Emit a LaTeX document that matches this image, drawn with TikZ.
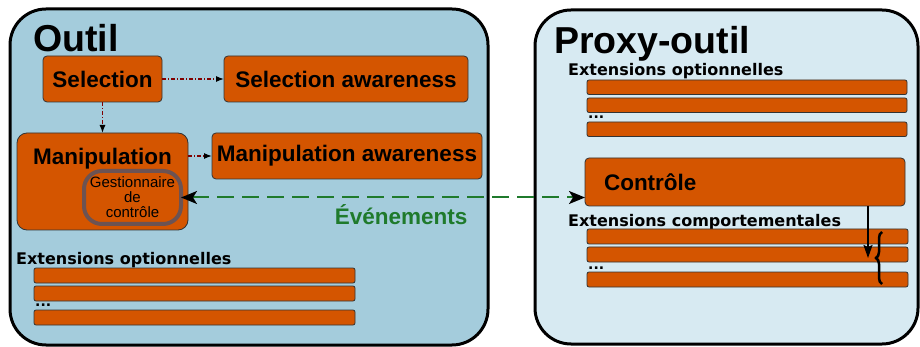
\documentclass[tikz,border=0pt]{standalone}
\usepackage{fontspec}
\setmainfont{Liberation Sans}
\newfontfamily\dejavu{DejaVu Sans}
\usepackage{xcolor}
\usetikzlibrary{arrows.meta,decorations.pathreplacing}
\definecolor{outilblue}{HTML}{A4CCDC}
\definecolor{proxyblue}{HTML}{D7EAF2}
\definecolor{boxorange}{HTML}{D45500}
\definecolor{gestgray}{HTML}{6C5353}
\definecolor{evgreen}{HTML}{1F7A2C}
\definecolor{linkred}{HTML}{800000}

\begin{document}
\begin{tikzpicture}[x=1pt, y=-1pt,
  box/.style={draw=black!80, line width=0.8pt, fill=boxorange, rounded corners=4pt, anchor=north west, inner sep=0pt, outer sep=0pt, font=\fontsize{22.5}{27}\selectfont\bfseries},
  bar/.style={draw=black!80, line width=0.8pt, fill=boxorange, rounded corners=2pt},
  link/.style={linkred, line width=1.2pt, dash pattern=on 4pt off 2pt on 1pt off 2pt, -{Latex[black,length=8pt,width=6pt]}},
  bigtitle/.style={anchor=base west, inner sep=0pt, font=\fontsize{37.5}{40}\selectfont\bfseries},
  exttitle/.style={anchor=base west, inner sep=0pt, font=\dejavu\bfseries\fontsize{16}{19}\selectfont},
  dots/.style={anchor=west, inner sep=0pt, font=\dejavu\bfseries\fontsize{14}{14}\selectfont}]
  \useasboundingbox (0,0) rectangle (920,347);
  % the two big frames
  \draw[fill=outilblue, line width=3pt, rounded corners=36pt] (10,9) rectangle (488,345);
  \draw[fill=proxyblue, line width=3pt, rounded corners=36pt] (535,10) rectangle (918,344);
  \node[bigtitle] (outil) at (33,52) {Outil};
  \node[bigtitle] (proxy) at (554,54) {Proxy-outil};
  % Outil
  \node[box, minimum width=119pt, minimum height=46pt] (sel) at (43,56) {Selection};
  \node[box, minimum width=244pt, minimum height=46pt] (selaw) at (224,56) {Selection awareness};
  \node[box, rounded corners=10pt, minimum width=171pt, minimum height=97pt] (manip) at (17,133) {};
  \node[anchor=base, inner sep=0pt, font=\fontsize{22.5}{27}\selectfont\bfseries] (maniptext) at (102.5,165) {Manipulation};
  \node[box, minimum width=270pt, minimum height=46pt] (manipaw) at (212,133) {Manipulation awareness};
  \node[box, draw=gestgray, line width=4pt, rounded corners=18pt, minimum width=97pt, minimum height=53pt, align=center,
    font=\fontsize{15}{15}\selectfont] (gest) at (84,171) {Gestionnaire\\de\\contrôle};
  \draw[link] (sel.east) -- (selaw.west);
  \draw[link] (sel.south) -- (sel.south |- manip.north);
  \draw[link] (manipaw.west -| manip.east) -- (manipaw.west);
  \node[exttitle] (optl) at (16,265) {Extensions optionnelles};
  \foreach \y in {268,286,310}
    \draw[bar] (34,\y) rectangle ++(321,15);
  \node[dots] (optldots) at (35,305) {...};
  % Proxy-outil
  \node[exttitle] (optr) at (568,76) {Extensions optionnelles};
  \foreach \y in {80,98,122}
    \draw[bar] (587,\y) rectangle ++(320,14.5);
  \node[dots] (optrdots) at (588,117) {...};
  \node[box, minimum height=48pt, text width=282pt, inner xsep=19pt, align=left] (ctrl) at (585,158) {Contrôle};
  \node[exttitle] (comp) at (568,226) {Extensions comportementales};
  \foreach \y in {229,247,272}
    \draw[bar] (587,\y) rectangle ++(321,15);
  \node[dots] (compdots) at (588,268) {...};
  \coordinate (ctrltip) at (868,258);
  \draw[line width=1.5pt, -{Stealth[length=13pt,width=9pt,inset=2pt]}] (ctrltip |- ctrl.south) -- (ctrltip);
  \draw[decorate, decoration={brace, amplitude=6pt}, line width=2.5pt] (882,284) -- (882,232);
  % events
  \draw[evgreen, line width=2pt, dash pattern=on 17pt off 8pt,
    {Stealth[black,length=16pt,width=13pt,inset=4pt]}-{Stealth[black,length=16pt,width=13pt,inset=4pt]}]
    (gest.east) -- (gest.east -| ctrl.west)
    node[pos=0.545, below=3pt, font=\fontsize{22.5}{27}\selectfont\bfseries] (events) {Événements};
\end{tikzpicture}
\end{document}
